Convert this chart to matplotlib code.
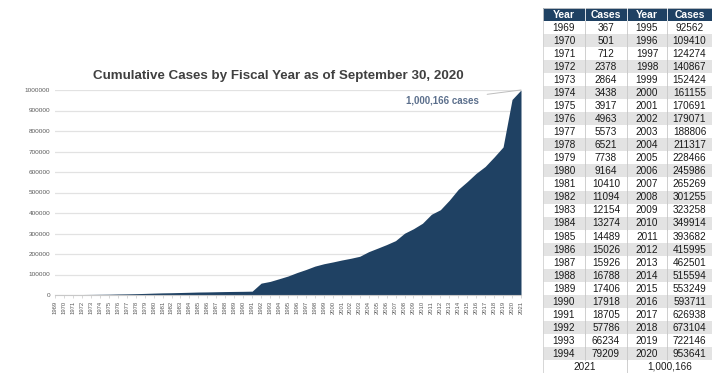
import matplotlib.pyplot as plt
from matplotlib.patches import Rectangle

plt.rcParams['font.family'] = ['Liberation Sans', 'DejaVu Sans']

# fiscal years and cumulative cases (from the table in the reference)
years = list(range(1969, 2022))
cases = [367, 501, 712, 2378, 2864, 3438, 3917, 4963, 5573, 6521,
         7738, 9164, 10410, 11094, 12154, 13274, 14489, 15026, 15926, 16788,
         17406, 17918, 18705, 57786, 66234, 79209, 92562, 109410, 124274, 140867,
         152424, 161155, 170691, 179071, 188806, 211317, 228466, 245986, 265269, 301255,
         323258, 349914, 393682, 415995, 462501, 515594, 553249, 593711, 626938, 673104,
         722146, 953641, 1000166]

navy = '#1f4163'
W, H = 714, 380

fig = plt.figure(figsize=(W / 100, H / 100), dpi=100)

# ---- area chart ----
ax = fig.add_axes([55 / W, 1 - 295 / H, (521 - 55) / W, 205 / H])
x = list(range(len(years)))
ax.fill_between(x, cases, 0, color=navy, lw=0)
ax.set_xlim(0, len(years) - 1)
ax.set_ylim(0, 1000000)
ax.set_yticks(range(0, 1000001, 100000))
ax.set_yticklabels([str(v) for v in range(0, 1000001, 100000)])
ax.set_xticks(x)
ax.set_xticklabels([str(y) for y in years], rotation=90)
ax.yaxis.grid(True, color='#e2e2e2', lw=0.9)
ax.set_axisbelow(True)
ax.tick_params(axis='y', length=0, labelsize=4.6, colors='#595959', pad=3.5)
ax.tick_params(axis='x', length=2.5, width=0.5, color='#c8c8c8', labelsize=4.2,
               labelcolor='#595959', pad=2)
for s in ['top', 'right', 'left']:
    ax.spines[s].set_visible(False)
ax.spines['bottom'].set_color('#c8c8c8')
ax.spines['bottom'].set_linewidth(0.8)

ax.annotate('1,000,166 cases', xy=(len(years) - 1, cases[-1]), xytext=(47.3, 951000),
            ha='right', va='center', fontsize=7, fontweight='bold', color='#5b6f8c',
            arrowprops=dict(arrowstyle='-', color='#bdbdbd', lw=0.7, shrinkA=4, shrinkB=0),
            annotation_clip=False)

fig.text(278 / W, 1 - 76 / H, 'Cumulative Cases by Fiscal Year as of September 30, 2020',
         ha='center', va='center', fontsize=9.6, fontweight='bold', color='#404040')

# ---- table ----
tax = fig.add_axes([543 / W, 1 - 373 / H, 169 / W, 365 / H])
tax.set_xlim(0, 169)
tax.set_ylim(28, 0)
tax.axis('off')
edges = [0, 42, 84, 124, 169]
half = 26

rows = [['Year', 'Cases', 'Year', 'Cases']]
for i in range(half):
    rows.append([str(years[i]), str(cases[i]), str(years[i + half]), str(cases[i + half])])

for r, row in enumerate(rows):
    if r == 0:
        bg, fc, fw, fs = navy, 'white', 'bold', 7.5
    else:
        bg, fc, fw, fs = ('#e3e3e3' if r % 2 == 0 else 'white'), '#1a1a1a', 'normal', 7.2
    tax.add_patch(Rectangle((0, r), 169, 1, facecolor=bg, edgecolor='none'))
    for c, txt in enumerate(row):
        tax.text((edges[c] + edges[c + 1]) / 2, r + 0.53, txt, ha='center', va='center',
                 fontsize=fs, color=fc, fontweight=fw)
    lc = 'white' if r == 0 else '#c8c8c8'
    for e in edges[1:-1]:
        tax.plot([e, e], [r, r + 1], color=lc, lw=0.6)

# last row: 2021 total spans two columns each
r = len(rows)
tax.add_patch(Rectangle((0, r), 169, 1, facecolor='white', edgecolor='none'))
tax.text(edges[2] / 2, r + 0.53, str(years[-1]), ha='center', va='center',
         fontsize=7.2, color='#1a1a1a')
tax.text((edges[2] + edges[4]) / 2, r + 0.53, f'{cases[-1]:,}', ha='center', va='center',
         fontsize=7.2, color='#1a1a1a')
tax.plot([edges[2], edges[2]], [r, r + 1], color='#c8c8c8', lw=0.6)
tax.add_patch(Rectangle((0, 0), 169, 28, facecolor='none', edgecolor='#d0d0d0', lw=0.6))

fig.savefig('out.png', dpi=100)
